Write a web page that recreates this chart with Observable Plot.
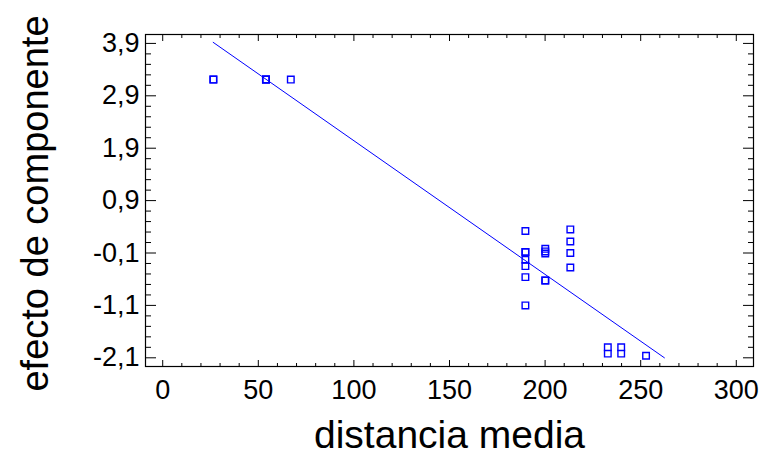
<!DOCTYPE html>
<html>
<head>
<meta charset="utf-8">
<script src="https://cdn.jsdelivr.net/npm/d3@7"></script>
<script src="https://cdn.jsdelivr.net/npm/@observablehq/plot@0.6"></script>
<style>
  html, body { margin: 0; padding: 0; background: #fff; }
  #chart svg { display: block; }
</style>
</head>
<body>
<div id="chart"></div>
<script>
// Data
const distancia = [26.5, 26.5, 54, 54, 54, 67,
  189.7, 189.7, 189.7, 189.7, 189.7, 189.7, 189.7,
  200.1, 200.1, 200.1, 200.1, 200.1,
  213.2, 213.2, 213.2, 213.2,
  232.8, 232.8, 239.8, 239.8, 252.8];
const efecto = [3.21, 3.21, 3.21, 3.21, 3.21, 3.21,
  0.32, -0.08, -0.08, -0.23, -0.35, -0.56, -1.10,
  -0.02, -0.07, -0.11, -0.625, -0.625,
  0.35, 0.12, -0.10, -0.376,
  -1.90, -2.02, -1.90, -2.02, -2.06];
// fitted line end points
const lineaX = [26.4, 262.4];
const lineaY = [3.92, -2.10];

const xMajor = [0, 50, 100, 150, 200, 250, 300];
const xMinor = [10, 20, 30, 40, 60, 70, 80, 90, 110, 120, 130, 140, 160, 170, 180, 190,
  210, 220, 230, 240, 260, 270, 280, 290];
const yMajor = [-2.1, -1.1, -0.1, 0.9, 1.9, 2.9, 3.9];
const yMinor = [-1.9, -1.7, -1.5, -1.3, -0.9, -0.7, -0.5, -0.3, 0.1, 0.3, 0.5, 0.7,
  1.1, 1.3, 1.5, 1.7, 2.1, 2.3, 2.5, 2.7, 3.1, 3.3, 3.5, 3.7];

const xTitle = "distancia media";
const yTitle = "efecto de componente";

const points = distancia.map((d, i) => ({x: d, y: efecto[i]}));
const linea = lineaX.map((d, i) => ({x: d, y: lineaY[i]}));
const fmt = d => d.toFixed(1).replace(".", ",");

const blue = "#0000ff";
const tickFont = 27;

const chart = Plot.plot({
  width: 762,
  height: 455,
  marginLeft: 145,
  marginRight: 9,
  marginTop: 34,
  marginBottom: 89,
  style: {fontFamily: "'Liberation Sans', Arial, sans-serif", color: "#000", background: "#fff"},
  x: {domain: [-9, 309]},
  y: {domain: [-2.266, 4.07]},
  marks: [
    Plot.frame({stroke: "#000", strokeWidth: 1.2}),
    // inward ticks
    Plot.axisY(yMajor, {anchor: "left", tickSize: -11, fill: "none", label: null}),
    Plot.axisY(yMinor, {anchor: "left", tickSize: -6, fill: "none", label: null}),
    Plot.axisY(yMajor, {anchor: "right", tickSize: -11, fill: "none", label: null}),
    Plot.axisY(yMinor, {anchor: "right", tickSize: -6, fill: "none", label: null}),
    Plot.axisX(xMajor, {anchor: "bottom", tickSize: -6, fill: "none", label: null}),
    Plot.axisX(xMinor, {anchor: "bottom", tickSize: -3, fill: "none", label: null}),
    Plot.axisX(xMajor, {anchor: "top", tickSize: -6, fill: "none", label: null}),
    Plot.axisX(xMinor, {anchor: "top", tickSize: -3, fill: "none", label: null}),
    // tick labels
    Plot.axisY(yMajor, {anchor: "left", tickSize: 0, tickPadding: 6, tickFormat: fmt, fontSize: tickFont, label: null}),
    Plot.axisX(xMajor, {anchor: "bottom", tickSize: 0, tickPadding: 13, tickFormat: d => String(d), fontSize: tickFont, label: null}),
    // axis titles
    Plot.text([yTitle], {frameAnchor: "left", textAnchor: "middle", dx: -110, dy: 3, rotate: -90, fontSize: 38, fill: "#000"}),
    Plot.text([xTitle], {frameAnchor: "bottom", textAnchor: "middle", lineAnchor: "bottom", dy: 81, fontSize: 39, fill: "#000"}),
    // data
    Plot.line(linea, {x: "x", y: "y", stroke: blue, strokeWidth: 1}),
    Plot.dot(points, {x: "x", y: "y", symbol: "square", r: 3.7, stroke: blue, fill: "none", strokeWidth: 1.4})
  ]
});
document.getElementById("chart").appendChild(chart);
</script>
</body>
</html>
